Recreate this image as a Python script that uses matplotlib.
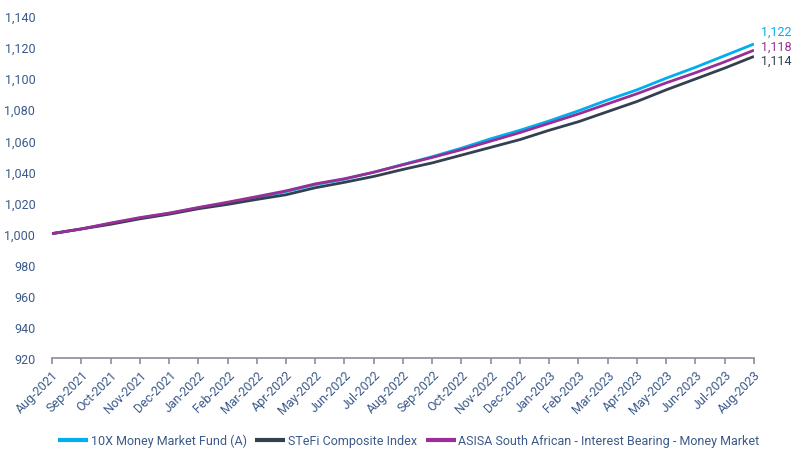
import matplotlib
matplotlib.use('Agg')
import matplotlib.pyplot as plt

months = ["Aug-2021", "Sep-2021", "Oct-2021", "Nov-2021", "Dec-2021", "Jan-2022",
          "Feb-2022", "Mar-2022", "Apr-2022", "May-2022", "Jun-2022", "Jul-2022",
          "Aug-2022", "Sep-2022", "Oct-2022", "Nov-2022", "Dec-2022", "Jan-2023",
          "Feb-2023", "Mar-2023", "Apr-2023", "May-2023", "Jun-2023", "Jul-2023",
          "Aug-2023"]

fund_10x = [1000, 1003, 1006.5, 1010, 1013, 1016.5, 1019.8, 1023.3, 1027, 1031.5,
            1035, 1039.5, 1044.5, 1049.5, 1055, 1061, 1066.5, 1072.5, 1079, 1086,
            1092.5, 1100, 1107, 1114.5, 1122]
stefi = [1000, 1003, 1006, 1009.5, 1012.5, 1016, 1018.8, 1022, 1025, 1029.5,
         1033, 1036.8, 1041.3, 1045.5, 1050.5, 1055.5, 1060.5, 1066.5, 1072, 1078.5,
         1085, 1092.5, 1099.5, 1106.5, 1114]
asisa = [1000, 1003, 1006.8, 1010.3, 1013.2, 1016.8, 1020.2, 1023.8, 1027.5, 1032,
         1035.3, 1039.5, 1044.3, 1049, 1054, 1059.5, 1065, 1071, 1077, 1083.5,
         1090, 1097, 1103.5, 1110.5, 1118]

# name, values, colour, vertical offset of the end label (points)
series = [
    ("10X Money Market Fund (A)", fund_10x, "#00AEEF", 9),
    ("STeFi Composite Index", stefi, "#33404F", -3),
    ("ASISA South African - Interest Bearing - Money Market", asisa, "#982E96", 3),
]

text_color = "#3B5A8A"
plt.rcParams['font.family'] = ['Roboto', 'DejaVu Sans']

fig = plt.figure(figsize=(7.94, 4.52), dpi=100)
ax = fig.add_axes([0.0655, 0.2058, 0.8841, 0.7566])

x = list(range(len(months)))
for name, vals, color, dy in series:
    ax.plot(x, vals, color=color, lw=2.0, label=name, solid_capstyle='butt')
    ax.annotate(f"{vals[-1]:,.0f}", xy=(x[-1], vals[-1]), xytext=(5, dy),
                textcoords="offset points", color=color, fontsize=9,
                va="center", ha="left")

ax.set_xlim(0, len(months) - 1)
ax.set_ylim(920, 1140)
ax.set_yticks(range(920, 1141, 20))
ax.set_yticklabels([f"{v:,}" for v in range(920, 1141, 20)])
ax.set_xticks(x)
ax.set_xticklabels(months, rotation=45, ha="right", rotation_mode="anchor")

for s in ["top", "right", "left"]:
    ax.spines[s].set_visible(False)
ax.spines["bottom"].set_color("#8C8C99")
ax.spines["bottom"].set_linewidth(1.2)
ax.tick_params(axis="y", length=0, pad=12, labelsize=9, labelcolor=text_color)
ax.tick_params(axis="x", length=4, color="#8C8C99", width=1.2, pad=3,
               labelsize=9, labelcolor=text_color)

leg = fig.legend(loc="lower center", bbox_to_anchor=(0.515, -0.017), ncol=3,
                 frameon=False, fontsize=9, handlelength=2.4, handletextpad=0.2,
                 columnspacing=0.7)
for t in leg.get_texts():
    t.set_color(text_color)
for h in leg.get_lines():
    h.set_linewidth(3)

fig.savefig("out.png", dpi=100)
